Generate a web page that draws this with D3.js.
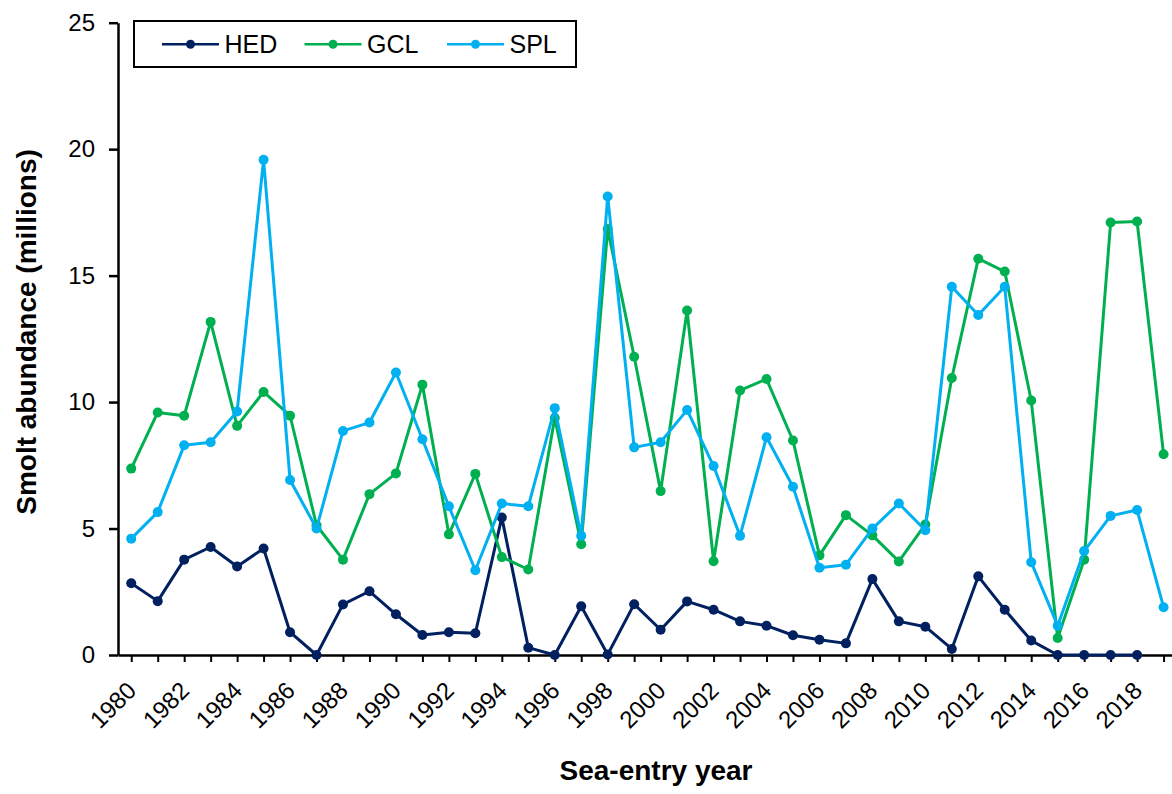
<!DOCTYPE html>
<html>
<head>
<meta charset="utf-8">
<script src="https://cdn.jsdelivr.net/npm/d3@7"></script>
<style>
  html, body { margin: 0; padding: 0; background: #fff; }
  svg { display: block; font-family: "Liberation Sans", Arial, sans-serif; }
</style>
</head>
<body>
<svg id="chart" width="1172" height="794"></svg>
<script>
// Sea-entry years
const years = d3.range(1980, 2020);

// Smolt abundance (millions) per population
const hed = [2.84, 2.13, 3.77, 4.27, 3.50, 4.21, 0.90, 0.00, 2.00, 2.52,
             1.61, 0.79, 0.90, 0.86, 5.44, 0.29, 0.00, 1.93, 0.02, 2.01,
             1.00, 2.12, 1.79, 1.33, 1.16, 0.78, 0.60, 0.46, 3.00, 1.33,
             1.12, 0.24, 3.11, 1.79, 0.57, 0.00, 0.00, 0.00, 0.00, null];
const gcl = [7.37, 9.59, 9.46, 13.17, 9.06, 10.40, 9.46, 5.13, 3.77, 6.36,
             7.18, 10.69, 4.77, 7.16, 3.87, 3.38, 9.37, 4.38, 16.84, 11.79,
             6.48, 13.62, 3.71, 10.46, 10.91, 8.48, 3.94, 5.53, 4.73, 3.70,
             5.16, 10.95, 15.67, 15.16, 10.06, 0.67, 3.77, 17.10, 17.14, 7.94];
const spl = [4.60, 5.65, 8.29, 8.41, 9.63, 19.58, 6.92, 5.00, 8.86, 9.19,
             11.17, 8.53, 5.88, 3.35, 5.99, 5.88, 9.76, 4.71, 18.13, 8.21,
             8.41, 9.69, 7.47, 4.71, 8.61, 6.65, 3.45, 3.57, 5.00, 5.99,
             4.93, 14.56, 13.44, 14.56, 3.67, 1.16, 4.11, 5.50, 5.73, 1.89];

const seriesNames = ["HED", "GCL", "SPL"];
const seriesColors = ["#002060", "#00B050", "#00B0F0"];
const yTicks = [0, 5, 10, 15, 20, 25];
const xLabelYears = d3.range(1980, 2020, 2);

const series = [hed, gcl, spl].map((vals, i) => ({
  name: seriesNames[i],
  color: seriesColors[i],
  points: years.map((yr, j) => ({ year: yr, value: vals[j] }))
}));

const svg = d3.select("#chart");

const x = d3.scaleLinear().domain([1979.5, 2019.5]).range([118, 1176.8]);
const y = d3.scaleLinear().domain([0, 25]).range([655, 22.7]);

// Y axis
const yAxis = svg.append("g").attr("transform", "translate(118,0)")
  .call(d3.axisLeft(y).tickValues(yTicks).tickSize(9).tickSizeOuter(0).tickPadding(14));
yAxis.select(".domain").attr("stroke", "#000").attr("stroke-width", 2.5);
yAxis.selectAll(".tick line").attr("stroke", "#000").attr("stroke-width", 2.5);
yAxis.selectAll(".tick text").attr("font-size", 24).attr("fill", "#000")
  .attr("font-family", "'Liberation Sans', Arial, sans-serif");

// X axis
const xAxis = svg.append("g").attr("transform", "translate(0,655)")
  .call(d3.axisBottom(x).tickValues(years).tickSize(7).tickSizeOuter(0)
    .tickFormat(d => xLabelYears.includes(d) ? String(d) : ""));
xAxis.select(".domain").attr("stroke", "#000").attr("stroke-width", 2.5);
xAxis.selectAll(".tick line").attr("stroke", "#000").attr("stroke-width", 2);
xAxis.selectAll(".tick text")
  .attr("font-size", 24).attr("fill", "#000")
  .attr("font-family", "'Liberation Sans', Arial, sans-serif")
  .attr("text-anchor", "end")
  .attr("y", 0).attr("dy", 0)
  .attr("transform", "translate(6,37) rotate(-45)");

// Lines and markers
const line = d3.line()
  .defined(d => d.value !== null)
  .x(d => x(d.year))
  .y(d => y(d.value));

series.forEach(s => {
  const g = svg.append("g");
  g.append("path")
    .datum(s.points)
    .attr("fill", "none")
    .attr("stroke", s.color)
    .attr("stroke-width", 3)
    .attr("stroke-linejoin", "round")
    .attr("d", line);
  g.selectAll("circle")
    .data(s.points.filter(d => d.value !== null))
    .join("circle")
    .attr("cx", d => x(d.year))
    .attr("cy", d => y(d.value))
    .attr("r", 5)
    .attr("fill", s.color);
});

// Legend
const legend = svg.append("g");
legend.append("rect")
  .attr("x", 134).attr("y", 21).attr("width", 442).attr("height", 46)
  .attr("fill", "#fff").attr("stroke", "#000").attr("stroke-width", 2);
series.forEach((s, i) => {
  const lx = 162 + i * 142.5;
  const ly = 44.3;
  legend.append("line")
    .attr("x1", lx).attr("x2", lx + 57).attr("y1", ly).attr("y2", ly)
    .attr("stroke", s.color).attr("stroke-width", 2.5);
  legend.append("circle").attr("cx", lx + 28.5).attr("cy", ly).attr("r", 4.5).attr("fill", s.color);
  legend.append("text")
    .attr("x", lx + 62.5).attr("y", ly).attr("dy", "0.36em")
    .attr("font-size", 25).attr("fill", "#000")
    .text(s.name);
});

// Axis titles
svg.append("text")
  .attr("transform", "translate(36,332) rotate(-90)")
  .attr("text-anchor", "middle")
  .attr("font-size", 28).attr("font-weight", "bold").attr("fill", "#000")
  .text("Smolt abundance (millions)");

svg.append("text")
  .attr("x", 656).attr("y", 780)
  .attr("text-anchor", "middle")
  .attr("font-size", 28).attr("font-weight", "bold").attr("fill", "#000")
  .text("Sea-entry year");
</script>
</body>
</html>
